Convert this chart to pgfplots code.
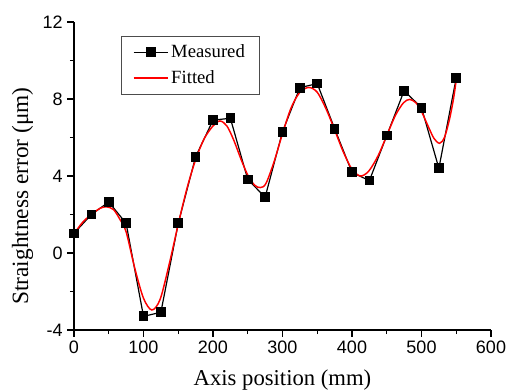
\documentclass[border=0pt]{standalone}
\usepackage{pgfplots}
\pgfplotsset{compat=1.18}
\usepackage{fontspec}
\setmainfont{Liberation Serif}
\newfontfamily\arialfont{Liberation Sans}
\begin{document}
\begin{tikzpicture}
\begin{axis}[
  at={(0,0)}, anchor=south west,
  scale only axis,
  width=312.75pt, height=231pt,
  xmin=0, xmax=600, ymin=-4, ymax=12,
  axis lines=left,
  axis line style={-, line width=0.9pt},
  xtick={0,100,...,600}, ytick={-4,0,4,8,12},
  minor xtick={50,150,...,550}, minor ytick={-2,2,6,10},
  tick align=outside,
  major tick length=5pt, minor tick length=3pt,
  tick style={line width=0.9pt, black},
  /pgf/number format/assume math mode=true,
  tick label style={font=\arialfont\fontsize{13.5}{15}\selectfont},
  xlabel={Axis position (mm)},
  ylabel={Straightness error (μm)},
  xlabel style={font=\fontsize{17}{19}\selectfont, inner sep=0pt, at={(axis description cs:0.5,-0.127)}, anchor=north},
  ylabel style={font=\fontsize{17.5}{19}\selectfont, inner sep=0pt, at={(axis description cs:-0.097,0.435)}, anchor=south},
  legend style={at={(axis description cs:0.112,0.955)}, anchor=north west,
    draw=black!70, font=\fontsize{14}{16}\selectfont,
    inner xsep=9pt, inner ysep=4.5pt, row sep=4pt, cells={anchor=west}},
  legend image code/.code={\draw[mark repeat=2,mark phase=2] plot coordinates {(0cm,0cm) (0.45cm,0cm) (0.9cm,0cm)};},
  clip=false,
]
\addplot[black, line width=0.9pt, mark=square*, mark size=3.2pt, mark options={solid, fill=black}] coordinates {
(0,1.02) (25,2.0) (50,2.65) (75,1.54) (100,-3.29) (125,-3.08) (150,1.54)
(175,5.0) (200,6.9) (225,7.0) (250,3.82) (275,2.9) (300,6.3) (325,8.59)
(350,8.8) (375,6.46) (400,4.19) (425,3.76) (450,6.1) (475,8.43) (500,7.55)
(525,4.4) (550,9.1)
};
\addlegendentry{Measured}
\addplot[red, line width=1.1pt, smooth, tension=0.5] coordinates {
(0,1.0) (12.5,1.6) (25,2.0) (37.5,2.32) (47,2.4) (57,2.25) (66,1.75) (75,1.1)
(87.5,-0.8) (100,-2.35) (112,-2.96) (124,-2.4) (137.5,-0.5) (150,1.5)
(162.5,3.35) (175,4.85) (187.5,5.95) (200,6.6) (210,6.86) (220,6.6) (230,5.85)
(240,4.9) (250,4.05) (260,3.52) (268,3.4) (276,3.6) (287.5,4.7) (300,6.2)
(312.5,7.55) (325,8.35) (338,8.6) (350,8.35) (362.5,7.5) (375,6.4) (387.5,5.25)
(400,4.35) (412,4.0) (424,4.25) (437.5,5.05) (450,6.1) (462.5,7.15) (474,7.8)
(483,7.98) (492,7.8) (500,7.35) (510,6.55) (518,5.95) (526,5.7) (533,6.0)
(540,6.9) (546,8.0) (550,9.0)
};
\addlegendentry{Fitted}
\end{axis}
\pgfresetboundingbox
\path (-55.5pt,-45pt) rectangle (329.25pt,247.5pt);
\end{tikzpicture}
\end{document}
